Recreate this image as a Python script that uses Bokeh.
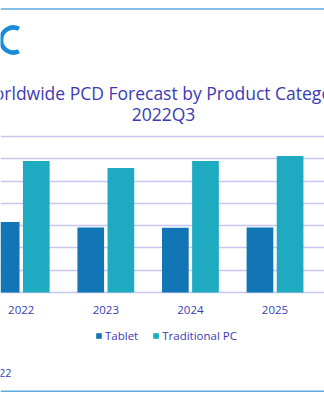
from bokeh.plotting import figure
from bokeh.models import (ColumnDataSource, Range1d, FixedTicker, Grid, Label, Legend,
                          LegendItem, Span, LabelSet)
from bokeh.core.properties import value
from bokeh.transform import dodge
from bokeh.embed import file_html
from bokeh.resources import INLINE

# ---- data (millions of units) ----
years = [2022, 2023, 2024, 2025]
year_labels = ["2022", "2023", "2024", "2025"]
tablet = [158, 146, 145, 146]
traditional_pc = [295, 279, 295, 306]
y_ticks = [0, 50, 100, 150, 200, 250, 300, 350]
series_names = ["Tablet", "Traditional PC"]
title_lines = ["Worldwide PCD Forecast by Product Category,", "2022Q3"]
source_text = "Source: IDC, December 2022"

TEXT = "#3b3bb3"
TABLET_C = "#1275b5"
PC_C = "#1eabc2"
GRID_C = "#c6c6ef"
BORDER_C = "#5eabdf"
FONT = "Open Sans"

src = ColumnDataSource(dict(year=years, label=year_labels, tablet=tablet, pc=traditional_pc))

W, H = 324, 400
BASE = 292            # pixel row of the zero line
PX_PER_UNIT = 22.3 / 50
X0, X1 = 2021.755, 2025.585
p = figure(width=W, height=H, output_backend="svg", toolbar_location=None,
           x_range=Range1d(X0, X1),
           y_range=Range1d(-(H - BASE) / PX_PER_UNIT, BASE / PX_PER_UNIT),
           x_axis_location=None, y_axis_location=None, min_border=0)
p.outline_line_color = None
p.background_fill_color = "white"
p.border_fill_color = "white"
for g in list(p.center):
    if isinstance(g, Grid):
        g.visible = False

grid = Grid(dimension=1, ticker=FixedTicker(ticks=y_ticks),
            grid_line_color=GRID_C, grid_line_width=1.5)
p.add_layout(grid)

off = 0.178
bw = 0.3156
r1 = p.vbar(x=dodge("year", -off, range=p.x_range), top="tablet", bottom=0, width=bw,
            source=src, fill_color=TABLET_C, line_color=None)
r2 = p.vbar(x=dodge("year", off, range=p.x_range), top="pc", bottom=0, width=bw,
            source=src, fill_color=PC_C, line_color=None)

# category labels under the bars
p.add_layout(LabelSet(x="year", y=H - 313.3, y_units="screen", text="label", source=src,
                      text_align="center", text_baseline="alphabetic",
                      text_font=value(FONT), text_font_size=value("11.5px"),
                      text_color=value(TEXT)))

legend = Legend(items=[LegendItem(label=series_names[0], renderers=[r1]),
                       LegendItem(label=series_names[1], renderers=[r2])],
                orientation="horizontal", location=(95, H - 343),
                glyph_width=7, glyph_height=7, label_standoff=3, spacing=14,
                padding=0, margin=0, border_line_color=None,
                background_fill_alpha=0, label_text_font=FONT,
                label_text_font_size="11.5px", label_text_color=TEXT)
p.add_layout(legend)

# title (centered at x=164.5 px of the visible crop)
p.add_layout(Label(x=164.5, y=H - 92, x_units="screen", y_units="screen",
                   text=title_lines[0], text_align="center", text_baseline="alphabetic",
                   text_font=FONT, text_font_size="17.5px", text_color=TEXT))
p.add_layout(Label(x=163, y=H - 113, x_units="screen", y_units="screen",
                   text=title_lines[1], text_align="center", text_baseline="alphabetic",
                   text_font=FONT, text_font_size="17.5px", text_color=TEXT))

# source note (mostly cut off at the left edge)
p.add_layout(Label(x=11, y=H - 371.7, x_units="screen", y_units="screen",
                   text=source_text, text_align="right", text_baseline="alphabetic",
                   text_font=FONT, text_font_size="11px", text_color=TEXT))

# IDC logo fragment ("C")
px_per_x = W / (X1 - X0)
logo_cx, logo_cy = 13, 39.5
p.arc(x=[X0 + logo_cx / px_per_x], y=[(BASE - logo_cy) / PX_PER_UNIT],
      radius=12.5, radius_units="screen", start_angle=1.12, end_angle=5.16,
      direction="anticlock", line_color="#1a8bd6", line_width=4.5)

# box borders
p.add_layout(Span(location=H - 8.5, location_units="screen", dimension="width",
                  line_color=BORDER_C, line_width=1.5))
p.add_layout(Span(location=H - 390.8, location_units="screen", dimension="width",
                  line_color=BORDER_C, line_width=1.5))

open("out.html", "w").write(file_html(p, INLINE))
